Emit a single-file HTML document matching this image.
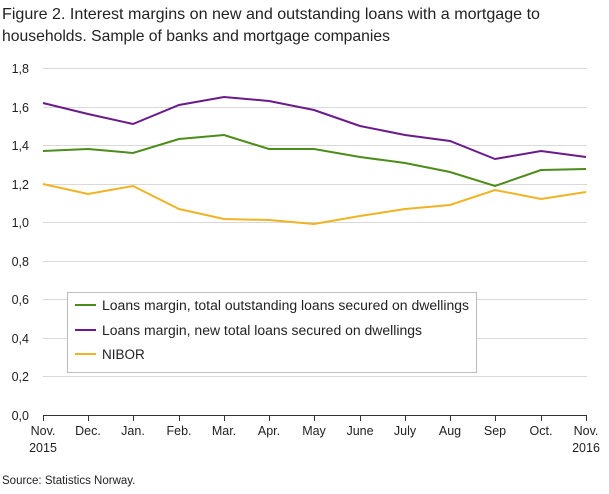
<!DOCTYPE html>
<html><head><meta charset="utf-8"><style>
body{margin:0;background:#fff;width:609px;height:489px;overflow:hidden;font-family:"Liberation Sans",sans-serif}
</style></head><body>
<svg width="609" height="489" xmlns="http://www.w3.org/2000/svg" font-family="Liberation Sans, sans-serif">
<text x="2" y="19" font-size="16" fill="#222" textLength="538" lengthAdjust="spacingAndGlyphs">Figure 2. Interest margins on new and outstanding loans with a mortgage to</text>
<text x="2" y="41" font-size="16" fill="#222" textLength="388" lengthAdjust="spacingAndGlyphs">households. Sample of banks and mortgage companies</text>
<g stroke="#d9d9d9" stroke-width="1">
<line x1="43" x2="587" y1="68.5" y2="68.5"/>
<line x1="43" x2="587" y1="107.5" y2="107.5"/>
<line x1="43" x2="587" y1="145.5" y2="145.5"/>
<line x1="43" x2="587" y1="184.5" y2="184.5"/>
<line x1="43" x2="587" y1="222.5" y2="222.5"/>
<line x1="43" x2="587" y1="261.5" y2="261.5"/>
<line x1="43" x2="587" y1="299.5" y2="299.5"/>
<line x1="43" x2="587" y1="338.5" y2="338.5"/>
<line x1="43" x2="587" y1="376.5" y2="376.5"/>
</g>
<line x1="43" x2="587" y1="415.5" y2="415.5" stroke="#333"/>
<g stroke="#333"><line x1="43.5" x2="43.5" y1="415" y2="421"/><line x1="88.5" x2="88.5" y1="415" y2="421"/><line x1="133.5" x2="133.5" y1="415" y2="421"/><line x1="179.5" x2="179.5" y1="415" y2="421"/><line x1="224.5" x2="224.5" y1="415" y2="421"/><line x1="269.5" x2="269.5" y1="415" y2="421"/><line x1="314.5" x2="314.5" y1="415" y2="421"/><line x1="360.5" x2="360.5" y1="415" y2="421"/><line x1="405.5" x2="405.5" y1="415" y2="421"/><line x1="450.5" x2="450.5" y1="415" y2="421"/><line x1="495.5" x2="495.5" y1="415" y2="421"/><line x1="541.5" x2="541.5" y1="415" y2="421"/><line x1="586.5" x2="586.5" y1="415" y2="421"/></g>
<g font-size="12.5" fill="#222" text-anchor="end">
<text x="29" y="73">1,8</text><text x="29" y="112">1,6</text><text x="29" y="150">1,4</text><text x="29" y="189">1,2</text><text x="29" y="227">1,0</text><text x="29" y="266">0,8</text><text x="29" y="304">0,6</text><text x="29" y="343">0,4</text><text x="29" y="381">0,2</text><text x="29" y="420">0,0</text>
</g>
<g font-size="12.5" fill="#222" text-anchor="middle">
<text x="43" y="435">Nov.</text><text x="43" y="452">2015</text>
<text x="88" y="435">Dec.</text><text x="133" y="435">Jan.</text><text x="179" y="435">Feb.</text><text x="224" y="435">Mar.</text><text x="269" y="435">Apr.</text><text x="314" y="435">May</text><text x="360" y="435">June</text><text x="405" y="435">July</text><text x="450" y="435">Aug</text><text x="495" y="435">Sep</text><text x="541" y="435">Oct.</text>
<text x="586" y="435">Nov.</text><text x="586" y="452">2016</text>
</g>
<polyline fill="none" stroke="#4b8c1a" stroke-width="2" points="43,151 88,149 133,153 179,139 224,135 269,149 314,149 360,157 405,163 450,172 495,186 541,170 586,169"/>
<polyline fill="none" stroke="#6a1a8a" stroke-width="2" points="43,103 88,114 133,124 179,105 224,97 269,101 314,110 360,126 405,135 450,141 495,159 541,151 586,157"/>
<polyline fill="none" stroke="#f0b323" stroke-width="2" points="43,184 88,194 133,186 179,209 224,219 269,220 314,224 360,216 405,209 450,205 495,190 541,199 586,192"/>
<rect x="67.5" y="292.5" width="409" height="80" fill="#fff" stroke="#bbb"/>
<line x1="75" x2="96" y1="305" y2="305" stroke="#4b8c1a" stroke-width="2"/>
<line x1="75" x2="96" y1="330" y2="330" stroke="#6a1a8a" stroke-width="2"/>
<line x1="75" x2="96" y1="354" y2="354" stroke="#f0b323" stroke-width="2"/>
<g font-size="13.5" fill="#222">
<text x="102" y="310" textLength="367" lengthAdjust="spacingAndGlyphs">Loans margin, total outstanding loans secured on dwellings</text>
<text x="102" y="335" textLength="320" lengthAdjust="spacingAndGlyphs">Loans margin, new total loans secured on dwellings</text>
<text x="102" y="359">NIBOR</text>
</g>
<text x="2" y="484" font-size="11.5" fill="#222">Source: Statistics Norway.</text>
</svg>
</body></html>
